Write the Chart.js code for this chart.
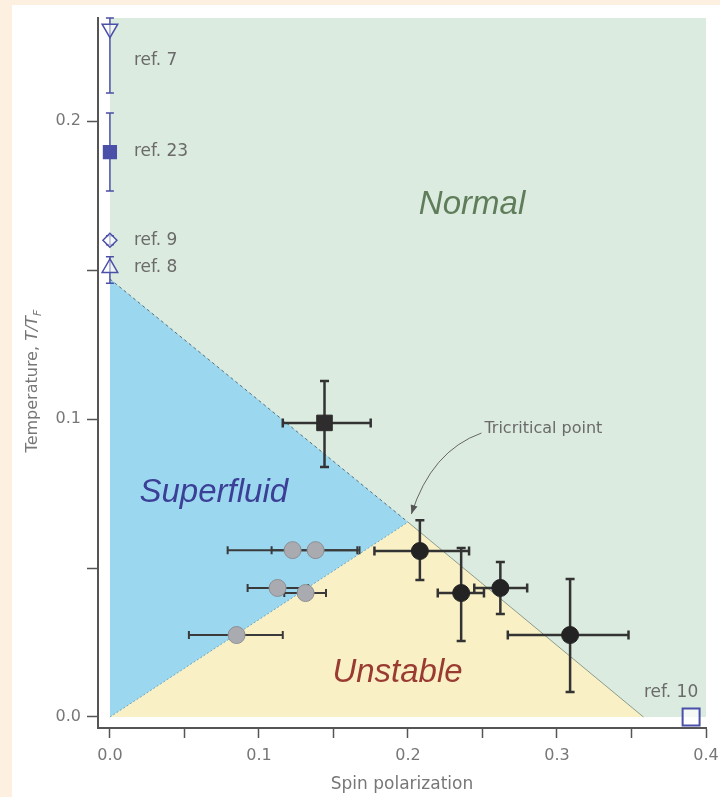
<!DOCTYPE html>
<html>
<head>
<meta charset="utf-8">
<script src="https://cdn.jsdelivr.net/npm/chart.js@4.4.1/dist/chart.umd.min.js"></script>
<style>
  html, body { margin: 0; padding: 0; background: #fdf0e0; }
  #wrap { width: 720px; height: 797px; }
</style>
</head>
<body>
<div id="wrap"><canvas id="phaseChart" width="720" height="797"></canvas></div>
<script>
Chart.defaults.font.family = '"DejaVu Sans", "Liberation Sans", sans-serif';
Chart.defaults.color = "#777";

// axis ticks
const xTickValues = [0, 0.05, 0.1, 0.15, 0.2, 0.25, 0.3, 0.35, 0.4];
const xTickLabels = ["0.0", "", "0.1", "", "0.2", "", "0.3", "", "0.4"];
const yTickValues = [0, 0.05, 0.1, 0.15, 0.2];
const yTickLabels = ["0.0", "", "0.1", "", "0.2"];

// phase regions (corners)
const normalX = [0, 0.4];
const normalY = [0.2346, 0.2346];
const superfluidX = [0, 0.2];
const superfluidY = [0.147, 0.0654];
const unstableX = [0, 0.2, 0.358];
const unstableY = [0, 0.0654, 0];

// earlier measurements
const refNames = ["ref. 7", "ref. 23", "ref. 9", "ref. 8", "ref. 10"];
const refX = [0, 0, 0, 0, 0.39];
const refY = [0.231, 0.1896, 0.16, 0.1507, 0];
const refYLow = [0.2094, 0.1765, 0.1585, 0.1456, 0];
const refYHigh = [0.2346, 0.2027, 0.1615, 0.1545, 0];

// grey circles (horizontal errors only)
const greyX = [0.1226, 0.138, 0.1125, 0.1313, 0.085];
const greyY = [0.056, 0.056, 0.0433, 0.0416, 0.0275];
const greyXLow = [0.079, 0.1085, 0.0924, 0.117, 0.053];
const greyXHigh = [0.166, 0.1675, 0.133, 0.145, 0.116];

// black circles
const blackX = [0.208, 0.2357, 0.262, 0.3088];
const blackY = [0.0557, 0.0416, 0.0433, 0.0275];
const blackXLow = [0.1775, 0.22, 0.2445, 0.267];
const blackXHigh = [0.241, 0.251, 0.28, 0.348];
const blackYLow = [0.046, 0.0255, 0.0346, 0.0084];
const blackYHigh = [0.066, 0.0567, 0.052, 0.0463];

// black square
const squareX = [0.144];
const squareY = [0.0987];
const squareXLow = [0.116];
const squareXHigh = [0.175];
const squareYLow = [0.0839];
const squareYHigh = [0.1128];

const pts = (xs, ys) => xs.map((x, i) => ({ x: x, y: ys[i] }));

const refBlue = "#4a4fa8";

const phaseLabels = [
  { text: "Normal", x: 0.243, y: 0.172, color: "#5f7d5a" },
  { text: "Superfluid", x: 0.0697, y: 0.0752, color: "#3c3f96" },
  { text: "Unstable", x: 0.193, y: 0.0148, color: "#9a3b32" },
];
// pixel offsets of the ref. labels from their markers
const refLabelOffsets = [[24, 32, "left"], [24, 0, "left"], [24, 0, "left"], [24, 0, "left"], [-20, -24, "center"]];

const pageBackground = {
  id: "pageBackground",
  beforeDraw(chart) {
    const ctx = chart.ctx;
    ctx.save();
    ctx.fillStyle = "#fdf0e0";
    ctx.fillRect(0, 0, chart.width, chart.height);
    ctx.fillStyle = "#ffffff";
    ctx.fillRect(12, 5, chart.width - 12, chart.height - 5);
    ctx.restore();
  },
};

const errorBars = {
  id: "errorBars",
  beforeDatasetDraw(chart, args) {
    const ds = chart.data.datasets[args.index];
    const err = ds.errors;
    if (!err) return;
    const xs = chart.scales.x;
    const ys = chart.scales.y;
    const ctx = chart.ctx;
    const cap = err.cap;
    ctx.save();
    ctx.strokeStyle = err.color;
    ctx.lineWidth = err.width;
    ds.data.forEach((p, i) => {
      const px = xs.getPixelForValue(p.x);
      const py = ys.getPixelForValue(p.y);
      ctx.beginPath();
      if (err.xLow) {
        const a = xs.getPixelForValue(err.xLow[i]);
        const b = xs.getPixelForValue(err.xHigh[i]);
        if (b - a > 1) {
          ctx.moveTo(a, py); ctx.lineTo(b, py);
          ctx.moveTo(a, py - cap); ctx.lineTo(a, py + cap);
          ctx.moveTo(b, py - cap); ctx.lineTo(b, py + cap);
        }
      }
      if (err.yLow) {
        const a = ys.getPixelForValue(err.yLow[i]);
        const b = ys.getPixelForValue(err.yHigh[i]);
        if (a - b > 1) {
          ctx.moveTo(px, a); ctx.lineTo(px, b);
          ctx.moveTo(px - cap, a); ctx.lineTo(px + cap, a);
          ctx.moveTo(px - cap, b); ctx.lineTo(px + cap, b);
        }
      }
      ctx.stroke();
    });
    ctx.restore();
  },
};

const annotations = {
  id: "annotations",
  afterDatasetsDraw(chart) {
    const ctx = chart.ctx;
    const xs = chart.scales.x;
    const ys = chart.scales.y;
    ctx.save();

    // phase names
    ctx.textAlign = "center";
    ctx.textBaseline = "middle";
    ctx.font = 'italic 33px "Liberation Sans", Arial, sans-serif';
    phaseLabels.forEach((l) => {
      ctx.fillStyle = l.color;
      ctx.fillText(l.text, xs.getPixelForValue(l.x), ys.getPixelForValue(l.y));
    });

    // ref. labels
    const refMeta = chart.getDatasetMeta(6);
    ctx.font = '17px "DejaVu Sans", sans-serif';
    ctx.fillStyle = "#6a6a6a";
    refNames.forEach((name, i) => {
      const el = refMeta.data[i];
      const off = refLabelOffsets[i];
      ctx.textAlign = off[2];
      ctx.fillText(name, el.x + off[0], el.y + off[1]);
    });

    // tricritical point label and arrow
    ctx.textAlign = "left";
    ctx.font = '16px "DejaVu Sans", sans-serif';
    ctx.fillStyle = "#6a6a6a";
    ctx.fillText("Tricritical point", xs.getPixelForValue(0.2513), ys.getPixelForValue(0.0966));
    const sx = xs.getPixelForValue(0.2493), sy = ys.getPixelForValue(0.0953);
    const cx = xs.getPixelForValue(0.2157), cy = ys.getPixelForValue(0.0893);
    const ex = xs.getPixelForValue(0.2023), ey = ys.getPixelForValue(0.0681);
    ctx.strokeStyle = "#666";
    ctx.lineWidth = 1;
    ctx.beginPath();
    ctx.moveTo(sx, sy);
    ctx.quadraticCurveTo(cx, cy, ex, ey);
    ctx.stroke();
    const ang = Math.atan2(ey - cy, ex - cx);
    ctx.fillStyle = "#555";
    ctx.beginPath();
    ctx.moveTo(ex, ey);
    ctx.lineTo(ex - 9 * Math.cos(ang) + 3.5 * Math.sin(ang), ey - 9 * Math.sin(ang) - 3.5 * Math.cos(ang));
    ctx.lineTo(ex - 9 * Math.cos(ang) - 3.5 * Math.sin(ang), ey - 9 * Math.sin(ang) + 3.5 * Math.cos(ang));
    ctx.closePath();
    ctx.fill();

    // y axis title: Temperature, T/T_F
    ctx.translate(33, 381);
    ctx.rotate(-Math.PI / 2);
    ctx.textAlign = "left";
    ctx.textBaseline = "middle";
    ctx.fillStyle = "#777";
    const fNormal = '16px "DejaVu Sans", sans-serif';
    const fItalic = 'italic 16px "DejaVu Sans", sans-serif';
    const fSub = 'italic 11px "DejaVu Sans", sans-serif';
    ctx.font = fNormal; const w1 = ctx.measureText("Temperature, ").width;
    ctx.font = fItalic; const w2 = ctx.measureText("T/T").width;
    ctx.font = fSub; const w3 = ctx.measureText("F").width;
    let x0 = -(w1 + w2 + w3) / 2;
    ctx.font = fNormal; ctx.fillText("Temperature, ", x0, 0); x0 += w1;
    ctx.font = fItalic; ctx.fillText("T/T", x0, 0); x0 += w2;
    ctx.font = fSub; ctx.fillText("F", x0, 5);

    ctx.restore();
  },
};

const regionBase = { borderWidth: 0, pointRadius: 0, pointHoverRadius: 0, fill: "origin" };
const boundaryBase = { fill: false, pointRadius: 0, pointHoverRadius: 0, borderWidth: 1 };

const ctx = document.getElementById("phaseChart");
const phaseChart = new Chart(ctx, {
  type: "line",
  data: {
    datasets: [
      { ...regionBase, label: "Normal", data: pts(normalX, normalY), backgroundColor: "#dcebdf", order: 12 },
      { ...regionBase, label: "Superfluid", data: pts(superfluidX, superfluidY), backgroundColor: "#9bd8f0", order: 11 },
      { ...regionBase, label: "Unstable", data: pts(unstableX, unstableY), backgroundColor: "#f9f0c6", order: 10 },
      {
        ...boundaryBase,
        label: "superfluid / normal",
        data: pts(superfluidX, superfluidY),
        borderColor: "#5d6f78",
        borderDash: [3, 3],
        order: 9,
      },
      {
        ...boundaryBase,
        label: "superfluid / unstable",
        data: pts(unstableX.slice(0, 2), unstableY.slice(0, 2)),
        borderColor: "#6aa6c8",
        borderDash: [2, 2],
        order: 8,
      },
      {
        ...boundaryBase,
        label: "unstable / normal",
        data: pts(unstableX.slice(1), unstableY.slice(1)),
        borderColor: "#8c9c8c",
        order: 7,
      },
      {
        label: "refs",
        data: pts(refX, refY),
        showLine: false,
        clip: false,
        pointStyle: ["triangle", "rect", "rectRot", "triangle", "rect"],
        pointRotation: [180, 0, 0, 0, 0],
        pointRadius: [9, 9, 7, 9, 12],
        pointHoverRadius: [9, 9, 7, 9, 12],
        pointBorderWidth: [1.5, 1.5, 1.5, 1.5, 2],
        pointBorderColor: refBlue,
        pointBackgroundColor: ["rgba(255,255,255,0.5)", refBlue, "rgba(255,255,255,0.6)", "rgba(255,255,255,0.5)", "rgba(255,255,255,0.7)"],
        errors: { yLow: refYLow, yHigh: refYHigh, color: refBlue, width: 1.5, cap: 4 },
        order: 4,
      },
      {
        label: "grey",
        data: pts(greyX, greyY),
        showLine: false,
        pointStyle: "circle",
        pointRadius: 8.5,
        pointHoverRadius: 8.5,
        pointBackgroundColor: "#aaabb0",
        pointBorderColor: "#8e8f94",
        pointBorderWidth: 1,
        errors: { xLow: greyXLow, xHigh: greyXHigh, color: "#3a3a3a", width: 2, cap: 4 },
        order: 3,
      },
      {
        label: "black",
        data: pts(blackX, blackY),
        showLine: false,
        pointStyle: "circle",
        pointRadius: 8.5,
        pointHoverRadius: 8.5,
        pointBackgroundColor: "#232323",
        pointBorderColor: "#232323",
        pointBorderWidth: 1,
        errors: { xLow: blackXLow, xHigh: blackXHigh, yLow: blackYLow, yHigh: blackYHigh, color: "#333", width: 2.5, cap: 4.5 },
        order: 2,
      },
      {
        label: "square",
        data: pts(squareX, squareY),
        showLine: false,
        pointStyle: "rect",
        pointRadius: 11,
        pointHoverRadius: 11,
        pointBackgroundColor: "#2e2c2c",
        pointBorderColor: "#2e2c2c",
        pointBorderWidth: 1,
        errors: { xLow: squareXLow, xHigh: squareXHigh, yLow: squareYLow, yHigh: squareYHigh, color: "#333", width: 2.5, cap: 4.5 },
        order: 1,
      },
    ],
  },
  options: {
    responsive: false,
    animation: false,
    layout: { padding: { top: 18, left: 0, right: 13, bottom: 0 } },
    elements: { line: { tension: 0 } },
    scales: {
      x: {
        type: "linear",
        min: -0.008,
        max: 0.4,
        afterBuildTicks: (axis) => { axis.ticks = xTickValues.map((v) => ({ value: v })); },
        afterFit: (axis) => {
          axis.height = 69;
          axis.paddingLeft = 0;
          axis.paddingRight = 0;
        },
        ticks: {
          autoSkip: false,
          maxRotation: 0,
          padding: 8,
          color: "#777",
          font: { size: 16 },
          callback: (v, i) => xTickLabels[i],
        },
        grid: { drawOnChartArea: false, drawTicks: true, tickLength: 10, tickColor: "#555", tickWidth: 1.5 },
        border: { display: true, color: "#555", width: 2 },
        title: { display: true, text: "Spin polarization", color: "#777", font: { size: 17 }, padding: { top: 0, bottom: 2 } },
      },
      y: {
        type: "linear",
        min: -0.0037,
        max: 0.2346,
        afterBuildTicks: (axis) => { axis.ticks = yTickValues.map((v) => ({ value: v })); },
        afterFit: (axis) => {
          axis.width = 98;
          axis.paddingTop = 0;
          axis.paddingBottom = 0;
        },
        ticks: {
          autoSkip: false,
          padding: 6,
          color: "#777",
          font: { size: 16 },
          callback: (v, i) => yTickLabels[i],
        },
        grid: { drawOnChartArea: false, drawTicks: true, tickLength: 11, tickColor: "#555", tickWidth: 1.5 },
        border: { display: true, color: "#555", width: 2 },
      },
    },
    plugins: {
      legend: { display: false },
      tooltip: { enabled: false },
    },
  },
  plugins: [pageBackground, errorBars, annotations],
});
</script>
</body>
</html>
